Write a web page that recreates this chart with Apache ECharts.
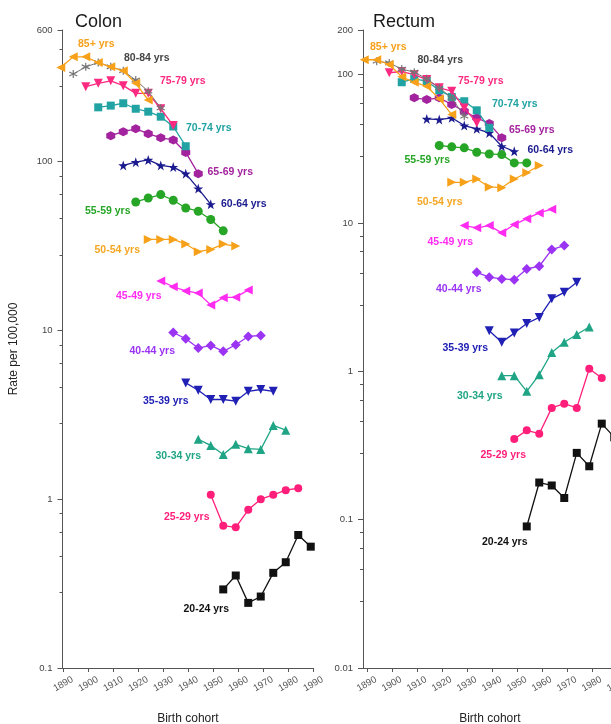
<!DOCTYPE html>
<html><head><meta charset="utf-8">
<script src="https://cdn.jsdelivr.net/npm/echarts@6/dist/echarts.min.js"></script>
<style>html,body{margin:0;padding:0;background:#fff}#c{width:611px;height:724px}</style>
</head><body><div id="c"></div><script>
// ---------- DATA ----------
const cohortYears = [1889,1894,1899,1904,1909,1914,1919,1924,1929,1934,1939,1944,1949,1954,1959,1964,1969,1974,1979,1984,1989];
const ageLabels = ['85+ yrs','80-84 yrs','75-79 yrs','70-74 yrs','65-69 yrs','60-64 yrs','55-59 yrs','50-54 yrs','45-49 yrs','40-44 yrs','35-39 yrs','30-34 yrs','25-29 yrs','20-24 yrs'];
const firstCohortIndex = [0,1,2,3,4,5,6,7,8,9,10,11,12,13];
const xTickLabels = [1890,1900,1910,1920,1930,1940,1950,1960,1970,1980,1990];
const colonTickLabels = [0.1,1,10,100,600];
const rectumTickLabels = [0.01,0.1,1,10,100,200];

// Colon rates per 100,000
const colon85 = [360,416,416,385,363,344,290,231];
const colon80 = [329,363,385,363,344,303,260,207];
const colon75 = [277,290,300,281,253,253,205,163];
const colon70 = [209,214,221,205,197,184,161,123];
const colon65 = [142,150,156,146,138,134,113,84.6];
const colon60 = [94.7,99,102,94.7,92.5,84.6,69,55.7];
const colon55 = [57.5,60.7,63.6,58.9,53,50.7,45.3,38.8];
const colon50 = [34.5,34.5,34.5,32.4,29.2,30.1,32.4,31.5];
const colon45 = [19.6,18.1,17.1,16.6,14.1,15.6,15.7,17.3];
const colon40 = [9.70,8.91,7.85,8.13,7.50,8.21,9.19,9.31];
const colon35 = [4.88,4.41,3.89,3.89,3.80,4.35,4.46,4.35];
const colon30 = [2.26,2.08,1.84,2.11,1.99,1.97,2.73,2.56];
const colon25 = [1.06,0.696,0.681,0.865,1.0,1.06,1.13,1.16];
const colon20 = [0.292,0.353,0.243,0.265,0.366,0.423,0.613,0.523];

// Rectum rates per 100,000
const rectum85 = [126,126,117,96.7,88.9,83.5,68.7,53.8];
const rectum80 = [123,120,109,104,93.7,81.5,69.8,52.4];
const rectum75 = [103,105,100,92.7,81.5,77.3,59.7,47.3];
const rectum70 = [88.9,93.7,90.3,78.5,70.8,66.2,57.5,43.8];
const rectum65 = [69.8,67.9,69.8,62.9,56.7,51.2,46.8,37.5];
const rectum60 = [50.3,49.8,51.2,45.4,43.1,40.5,32.9,30.4];
const rectum55 = [33.3,32.6,32.1,30.0,29.2,28.9,25.4,25.4];
const rectum50 = [18.8,18.8,19.8,17.5,17.3,19.8,21.8,24.4];
const rectum45 = [9.6,9.27,9.6,8.58,9.76,10.7,11.7,12.4];
const rectum40 = [4.65,4.31,4.20,4.15,4.90,5.11,6.62,7.04];
const rectum35 = [1.88,1.57,1.81,2.10,2.31,3.08,3.41,3.98];
const rectum30 = [0.935,0.935,0.733,0.95,1.34,1.57,1.77,1.99];
const rectum25 = [0.350,0.400,0.380,0.567,0.605,0.567,1.04,0.902];
const rectum20 = [0.090,0.178,0.170,0.140,0.282,0.229,0.444,0.36];

const colonSeries = [colon85,colon80,colon75,colon70,colon65,colon60,colon55,colon50,colon45,colon40,colon35,colon30,colon25,colon20];
const rectumSeries = [rectum85,rectum80,rectum75,rectum70,rectum65,rectum60,rectum55,rectum50,rectum45,rectum40,rectum35,rectum30,rectum25,rectum20];

// ---------- STYLES ----------
const STAR = 'path://M50,0 L61.8,35.1 L98.1,35.1 L68.8,56.8 L79.4,91 L50,70 L20.6,91 L31.2,56.8 L1.9,35.1 L38.2,35.1 Z';
const AST = 'path://M50,0 L50,100 M7,25 L93,75 M7,75 L93,25';
const HEX = 'path://M50,0 L93.3,25 L93.3,75 L50,100 L6.7,75 L6.7,25 Z';
const styles = [
  {color:'#f7a11a', label:'#f7a11a', symbol:'triangle', rot:90, size:9},
  {color:'#757575', label:'#444444', symbol:AST, rot:0, size:8, stroke:true, lw:1},
  {color:'#fb2a80', label:'#fb2a80', symbol:'triangle', rot:180, size:9},
  {color:'#21a3a3', label:'#21a3a3', symbol:'rect', rot:0, size:8},
  {color:'#a3229e', label:'#a3229e', symbol:HEX, rot:0, size:9},
  {color:'#1b1b8f', label:'#1b1b8f', symbol:STAR, rot:0, size:10},
  {color:'#26a526', label:'#26a526', symbol:'circle', rot:0, size:9},
  {color:'#f7a11a', label:'#f5a623', symbol:'triangle', rot:-90, size:9},
  {color:'#ff2bf0', label:'#ff2bf0', symbol:'triangle', rot:90, size:9},
  {color:'#9b33f2', label:'#9b33f2', symbol:'diamond', rot:0, size:10},
  {color:'#2020b5', label:'#2020b5', symbol:'triangle', rot:180, size:9},
  {color:'#1fa585', label:'#1fa585', symbol:'triangle', rot:0, size:9},
  {color:'#ff1f7a', label:'#ff1f7a', symbol:'circle', rot:0, size:8},
  {color:'#111111', label:'#111111', symbol:'rect', rot:0, size:8}
];
// label anchor point index and pixel offset from it
const colonLabelPlace = [[1,23,-13],[3,36,-9],[6,22,-28],[7,23,-18],[7,32,-2],[7,33,0],[0,-28,9],[0,-31,11],[0,-22,15],[0,-21,19],[0,-20,18],[0,-20,17],[0,-24,22],[0,-17,20]];
const rectumLabelPlace = [[0,24,-13],[3,26,-12],[5,29,-10],[6,38,-6],[7,30,-8],[7,36,-1],[0,-12,15],[0,-12,20],[0,-14,16],[0,-18,17],[0,-24,17],[0,-22,20],[0,-11,16],[0,-22,16]];

const FONT = '"Liberation Sans", Arial, sans-serif';
const MULTS = [2.8,4.6,6.4,8.2];
function minorTicks(lo, hi){
  const out = [];
  for (let e = Math.floor(Math.log10(lo)); e <= Math.ceil(Math.log10(hi)); e++) {
    MULTS.forEach(m => { const v = m*Math.pow(10,e); if (v > lo && v < hi) out.push(Math.log10(v)); });
  }
  return out;
}
function tickFmt(list){ return v => { const t = list.find(t => Math.abs(Math.log10(t)-v) < 1e-6); return t === undefined ? '' : String(t); }; }

function yAxesFor(grid, ticks, offset){
  const lo = ticks[0], hi = ticks[ticks.length-1];
  const major = ticks.map(t => Math.log10(t));
  return [
    {type:'log', gridIndex:grid, min:lo, max:hi, show:false, logBase:10},
    {type:'value', gridIndex:grid, position:'left', offset:offset, min:Math.log10(lo), max:Math.log10(hi),
      axisLine:{show:true, lineStyle:{color:'#555', width:1}},
      axisTick:{show:true, customValues:major, length:5, lineStyle:{color:'#555', width:1}},
      axisLabel:{show:true, customValues:major, formatter:tickFmt(ticks), fontSize:9.5, color:'#444', margin:10, fontFamily:FONT},
      splitLine:{show:false},
      name: grid === 0 ? 'Rate per 100,000' : '', nameLocation:'middle', nameGap:43, nameRotate:90,
      nameTextStyle:{fontSize:12, color:'#222', fontFamily:FONT}},
    {type:'value', gridIndex:grid, position:'left', offset:offset, min:Math.log10(lo), max:Math.log10(hi),
      axisLine:{show:false},
      axisTick:{show:true, customValues:minorTicks(lo,hi), length:3, lineStyle:{color:'#555', width:1}},
      axisLabel:{show:false}, splitLine:{show:false}}
  ];
}
function xAxisFor(grid, min){
  return {type:'value', gridIndex:grid, min:min, max:1990,
    axisLine:{show:true, onZero:false, lineStyle:{color:'#555', width:1}},
    axisTick:{show:true, customValues:xTickLabels, length:4, lineStyle:{color:'#555'}},
    axisLabel:{show:true, customValues:xTickLabels, formatter:v => String(v), rotate:30, align:'center', verticalAlign:'middle',
      margin:16, fontSize:9.5, color:'#555', fontFamily:FONT},
    splitLine:{show:false},
    name:'Birth cohort', nameLocation:'middle', nameGap:45, nameTextStyle:{fontSize:12, color:'#222', fontFamily:FONT}};
}
function buildSeries(panel, seriesList, places, yIndex){
  return seriesList.map((vals, s) => {
    const st = styles[s], pl = places[s];
    const data = vals.map((v, i) => {
      const item = {value:[cohortYears[firstCohortIndex[s] + i], v]};
      if (i === pl[0]) item.label = {show:true, formatter:ageLabels[s], position:'inside', offset:[pl[1], pl[2]],
        color:st.label, fontSize:10.5, fontWeight:'bold', fontFamily:FONT};
      return item;
    });
    return {type:'line', name:panel + ageLabels[s], xAxisIndex:panel === 'c' ? 0 : 1, yAxisIndex:yIndex, data,
      symbol:st.symbol, symbolSize:st.size, symbolRotate:st.rot, clip:false, z:20 - s,
      lineStyle:{color:st.color, width:st.lw || 1.3},
      itemStyle:{color:st.stroke ? 'rgba(0,0,0,0)' : st.color, borderColor:st.color, borderWidth:st.stroke ? 1.2 : 0},
      emphasis:{disabled:true}, animation:false, silent:true};
  });
}

const chart = echarts.init(document.getElementById('c'), null, {renderer:'canvas'});
chart.setOption({
  animation:false,
  backgroundColor:'#fff',
  textStyle:{fontFamily:FONT},
  title:[
    {text:'Colon', left:70, top:8, textStyle:{fontSize:18, fontWeight:'normal', color:'#1a1a1a', fontFamily:FONT}},
    {text:'Rectum', left:368, top:8, textStyle:{fontSize:18, fontWeight:'normal', color:'#1a1a1a', fontFamily:FONT}}
  ],
  grid:[
    {left:62.5, right:297.75, top:30, bottom:56, outerBoundsMode:'none', containLabel:false},
    {left:363, right:-5.75, top:30, bottom:56, outerBoundsMode:'none', containLabel:false}
  ],
  xAxis:[xAxisFor(0, 1889.7), xAxisFor(1, 1888.5)],
  yAxis:[...yAxesFor(0, colonTickLabels, 0), ...yAxesFor(1, rectumTickLabels, 0)],
  series:[...buildSeries('c', colonSeries, colonLabelPlace, 0), ...buildSeries('r', rectumSeries, rectumLabelPlace, 3)]
});
</script></body></html>
